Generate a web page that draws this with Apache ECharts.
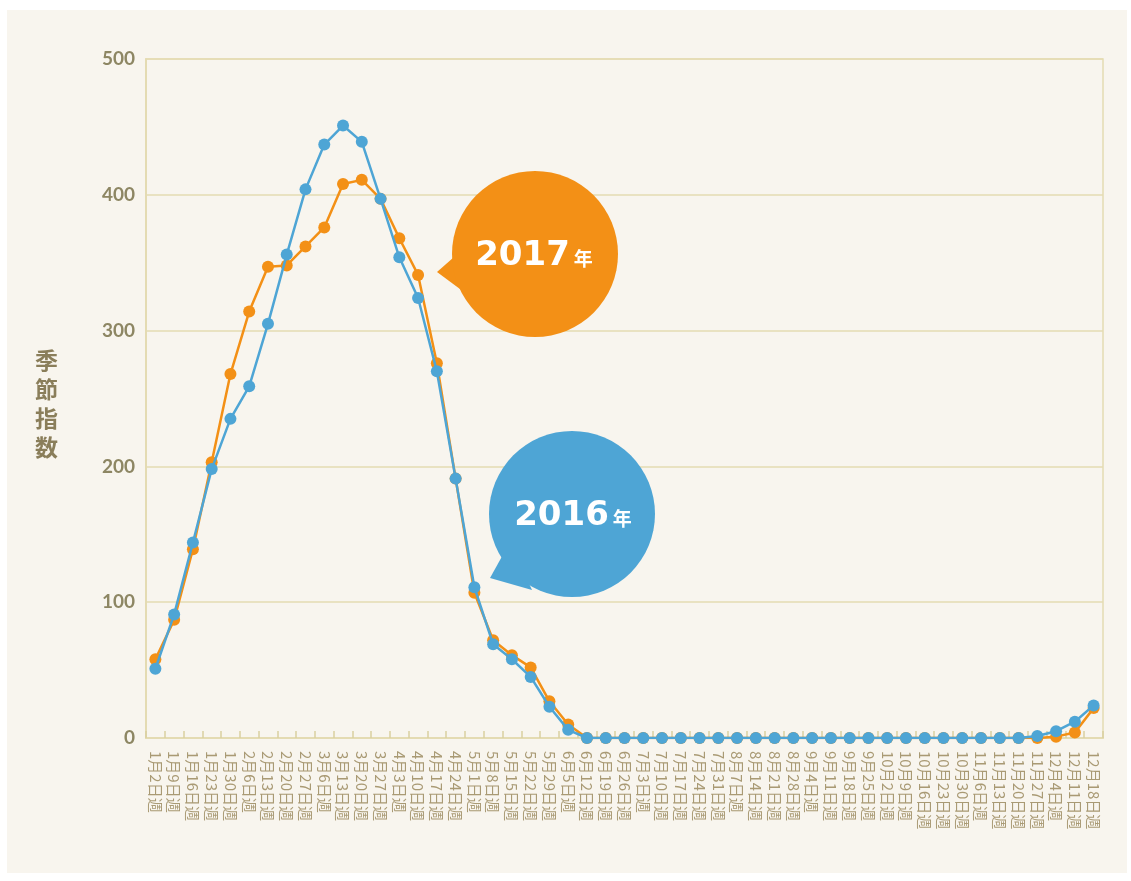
<!DOCTYPE html>
<html>
<head>
<meta charset="utf-8">
<script src="https://cdn.jsdelivr.net/npm/echarts@6/dist/echarts.min.js"></script>
<style>
html,body{margin:0;padding:0;background:#ffffff;}
#chart{width:1131px;height:881px;}
</style>
</head>
<body>
<div id="chart"></div>
<script>
const categories = [
 '1月2日週','1月9日週','1月16日週','1月23日週','1月30日週','2月6日週','2月13日週','2月20日週','2月27日週',
 '3月6日週','3月13日週','3月20日週','3月27日週','4月3日週','4月10日週','4月17日週','4月24日週',
 '5月1日週','5月8日週','5月15日週','5月22日週','5月29日週','6月5日週','6月12日週','6月19日週','6月26日週',
 '7月3日週','7月10日週','7月17日週','7月24日週','7月31日週','8月7日週','8月14日週','8月21日週','8月28日週',
 '9月4日週','9月11日週','9月18日週','9月25日週','10月2日週','10月9日週','10月16日週','10月23日週','10月30日週',
 '11月6日週','11月13日週','11月20日週','11月27日週','12月4日週','12月11日週','12月18日週'
];
const values2017 = [
 58, 87, 139, 203, 268, 314, 347, 348, 362, 376, 408, 411, 397, 368, 341, 276, 191,
 107, 72, 61, 52, 27, 10, 0, 0, 0, 0, 0, 0, 0, 0, 0, 0, 0, 0,
 0, 0, 0, 0, 0, 0, 0, 0, 0, 0, 0, 0, 0, 1, 4, 22
];
const values2016 = [
 51, 91, 144, 198, 235, 259, 305, 356, 404, 437, 451, 439, 397, 354, 324, 270, 191,
 111, 69, 58, 45, 23, 6, 0, 0, 0, 0, 0, 0, 0, 0, 0, 0, 0, 0,
 0, 0, 0, 0, 0, 0, 0, 0, 0, 0, 0, 0, 1.5, 5, 12, 24
];
const yTicks = [0, 100, 200, 300, 400, 500];
const yTitle = '季節指数';
const label2017 = '2017';
const label2016 = '2016';
const yearSuffix = '年';

const orange = '#f39016';
const blue = '#4ea5d5';
const gridColor = '#e4dbb2';

const chart = echarts.init(document.getElementById('chart'), null, {renderer: 'canvas'});
chart.setOption({
  backgroundColor: '#ffffff',
  animation: false,
  graphic: [
    {type: 'rect', z: -10, shape: {x: 7, y: 10, width: 1120, height: 863}, style: {fill: '#f8f5ee'}},
    {type: 'text', left: 35, top: 346, style: {text: yTitle.split('').join('\n'), fill: '#8a7e5a',
      font: 'bold 23px "Noto Sans CJK JP"', lineHeight: 29}},
    // 2017 bubble
    {type: 'polygon', z: 50, shape: {points: [[437, 272], [462, 250], [464, 292]]}, style: {fill: orange}},
    {type: 'circle', z: 50, shape: {cx: 535, cy: 254, r: 83}, style: {fill: orange}},
    {type: 'text', z: 51, x: 534, y: 256, style: {
      text: '{a|' + label2017 + '}{b|' + yearSuffix + '}', align: 'center', verticalAlign: 'middle',
      rich: {a: {font: 'bold 34px "DejaVu Sans"', fill: '#ffffff'}, b: {font: 'bold 19px "Noto Sans CJK JP"', fill: '#ffffff', padding: [6, 0, 0, 4]}}
    }},
    // 2016 bubble
    {type: 'polygon', z: 50, shape: {points: [[490, 578], [510, 542], [532, 590]]}, style: {fill: blue}},
    {type: 'circle', z: 50, shape: {cx: 572, cy: 514, r: 83}, style: {fill: blue}},
    {type: 'text', z: 51, x: 573, y: 516, style: {
      text: '{a|' + label2016 + '}{b|' + yearSuffix + '}', align: 'center', verticalAlign: 'middle',
      rich: {a: {font: 'bold 34px "DejaVu Sans"', fill: '#ffffff'}, b: {font: 'bold 19px "Noto Sans CJK JP"', fill: '#ffffff', padding: [6, 0, 0, 4]}}
    }}
  ],
  grid: {left: 146, right: 28, top: 59, bottom: 143, show: true, borderColor: gridColor, borderWidth: 1.5, backgroundColor: 'transparent'},
  xAxis: {
    type: 'category',
    data: categories,
    boundaryGap: true,
    axisLine: {lineStyle: {color: gridColor, width: 2}},
    axisTick: {show: true, inside: true, length: 7, interval: 0, lineStyle: {color: '#d9cfa0', width: 1.5}},
    axisLabel: {interval: 0, rotate: -90, margin: 13, color: '#a99a74', fontSize: 15,
      fontFamily: '"Noto Sans CJK JP"'}
  },
  yAxis: {
    type: 'value',
    min: yTicks[0], max: yTicks[yTicks.length - 1], interval: 100,
    axisLine: {show: true, lineStyle: {color: gridColor, width: 2}},
    axisTick: {show: false},
    splitLine: {lineStyle: {color: gridColor, width: 1.5}},
    axisLabel: {color: '#8d8663', fontSize: 19, fontWeight: 'bold', fontFamily: 'Lato', margin: 11}
  },
  series: [
    {name: '2017年', type: 'line', data: values2017, symbol: 'circle', symbolSize: 12,
      itemStyle: {color: orange}, lineStyle: {color: orange, width: 2.5}, z: 3},
    {name: '2016年', type: 'line', data: values2016, symbol: 'circle', symbolSize: 12,
      itemStyle: {color: blue}, lineStyle: {color: blue, width: 2.5}, z: 4}
  ]
});
</script>
</body>
</html>
